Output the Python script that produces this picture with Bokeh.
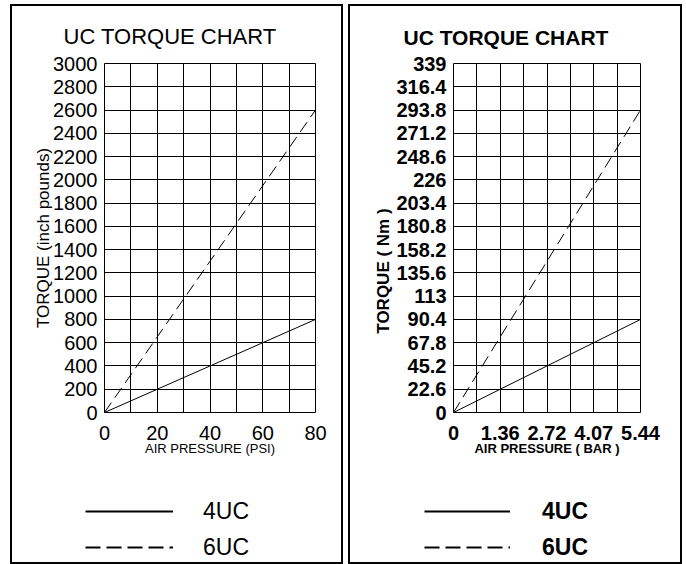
from bokeh.plotting import figure
from bokeh.models import Range1d, FixedTicker, Legend, LegendItem
from bokeh.layouts import row, column
from bokeh.embed import file_html
from bokeh.resources import INLINE

# ---------------- data ----------------
psi = [0, 80]
torque_4uc_inlb = [0, 800]
torque_6uc_inlb = [0, 2600]

bar = [0, 5.44]
torque_4uc_nm = [0, 90.4]
torque_6uc_nm = [0, 293.8]

psi_ticks = [0, 20, 40, 60, 80]
psi_grid = [0, 10, 20, 30, 40, 50, 60, 70, 80]
inlb_ticks = [0, 200, 400, 600, 800, 1000, 1200, 1400, 1600, 1800,
              2000, 2200, 2400, 2600, 2800, 3000]

bar_ticks = [0, 1.36, 2.72, 4.08, 5.44]
bar_tick_labels = ["0", "1.36", "2.72", "4.07", "5.44"]
bar_grid = [0, 0.68, 1.36, 2.04, 2.72, 3.40, 4.08, 4.76, 5.44]
nm_ticks = [0, 22.6, 45.2, 67.8, 90.4, 113, 135.6, 158.2, 180.8, 203.4,
            226, 248.6, 271.2, 293.8, 316.4, 339]
nm_tick_labels = ["0", "22.6", "45.2", "67.8", "90.4", "113", "135.6", "158.2",
                  "180.8", "203.4", "226", "248.6", "271.2", "293.8", "316.4", "339"]

series_labels = ["4UC", "6UC"]
FONT = "Liberation Sans"
DASH = "12 6"
LEG_DASH = "15 6"
MAIN_H = 466
LEG_H = 94
NAN = float("nan")


def make_panel(title, xlabel, ylabel, xs, y4, y6, xmax, ymax, xticks, xgrid,
               yticks, xlabels, ylabels, weight, width, margin, mleft, mright,
               title_offset, title_size, ylabel_standoff,
               leg_x, leg_glyph_w, leg_standoff):
    p = figure(width=width, height=MAIN_H, output_backend="svg", toolbar_location=None,
               x_range=Range1d(0, xmax), y_range=Range1d(0, ymax),
               min_border_left=mleft, min_border_right=mright,
               min_border_top=59, min_border_bottom=MAIN_H - 59 - 349,
               border_fill_color=None, background_fill_color="white",
               outline_line_color="black", outline_line_width=1,
               title=title)
    p.title.text_font = FONT
    p.title.text_font_size = title_size
    p.title.text_font_style = weight
    p.title.text_color = "black"
    p.title.align = "left"
    p.title.offset = title_offset
    p.title.standoff = 30

    p.xaxis.ticker = FixedTicker(ticks=xticks, minor_ticks=xgrid)
    p.yaxis.ticker = FixedTicker(ticks=yticks)
    if xlabels is not None:
        p.xaxis.major_label_overrides = {t: s for t, s in zip(xticks, xlabels)}
    if ylabels is not None:
        p.yaxis.major_label_overrides = {t: s for t, s in zip(yticks, ylabels)}

    for ax in (p.xaxis, p.yaxis):
        ax.axis_line_color = None
        ax.major_tick_line_color = None
        ax.minor_tick_line_color = None
        ax.major_tick_out = 0
        ax.major_tick_in = 0
        ax.major_label_text_font = FONT
        ax.major_label_text_font_size = "20px"
        ax.major_label_text_font_style = weight
        ax.major_label_text_color = "black"
        ax.axis_label_text_font = FONT
        ax.axis_label_text_font_style = weight
        ax.axis_label_text_color = "black"
        ax.major_label_standoff = 7
    p.xaxis.axis_label = xlabel
    p.xaxis.axis_label_text_font_size = "13px"
    p.xaxis.axis_label_standoff = -2
    p.xaxis.major_label_standoff = 9
    p.yaxis.axis_label = ylabel
    p.yaxis.axis_label_text_font_size = "17px"
    p.yaxis.axis_label_standoff = ylabel_standoff

    p.xgrid.grid_line_color = "black"
    p.xgrid.grid_line_width = 1
    p.xgrid.minor_grid_line_color = "black"
    p.xgrid.minor_grid_line_width = 1
    p.ygrid.grid_line_color = "black"
    p.ygrid.grid_line_width = 1

    p.line(xs, y4, line_color="black", line_width=1)
    p.line(xs, y6, line_color="black", line_width=1, line_dash=DASH)

    # legend in its own strip below the chart (same panel box)
    q = figure(width=width, height=LEG_H, output_backend="svg", toolbar_location=None,
               x_range=Range1d(0, 1), y_range=Range1d(0, 1),
               x_axis_type=None, y_axis_type=None,
               min_border_left=0, min_border_right=0, min_border_top=0,
               min_border_bottom=0, border_fill_color=None,
               background_fill_color=None, outline_line_color=None)
    try:
        q.frame_align = False
    except AttributeError:
        pass
    l4 = q.line([NAN], [NAN], line_color="black", line_width=2)
    l6 = q.line([NAN], [NAN], line_color="black", line_width=2, line_dash=LEG_DASH)
    legend = Legend(items=[LegendItem(label=series_labels[0], renderers=[l4]),
                           LegendItem(label=series_labels[1], renderers=[l6])],
                    location=(leg_x, -1), orientation="vertical",
                    glyph_width=leg_glyph_w, glyph_height=36, label_height=36,
                    label_standoff=leg_standoff, spacing=0, padding=0, margin=0,
                    border_line_color=None, background_fill_alpha=0,
                    label_text_font=FONT, label_text_font_size="23px",
                    label_text_font_style=weight, label_text_color="black")
    q.add_layout(legend)
    return column(p, q, spacing=0, margin=margin,
                  styles={"box-shadow": "inset 0 0 0 2px #000"})


c1 = make_panel("UC TORQUE CHART", "AIR PRESSURE (PSI)", "TORQUE (inch pounds)",
                psi, torque_4uc_inlb, torque_6uc_inlb, 80, 3000,
                psi_ticks, psi_grid, inlb_ticks, None, None, "normal",
                333, (4, 0, 0, 10), 94, 28, -41, "22px", -3, 75, 88, 30)
c2 = make_panel("UC TORQUE CHART", "AIR PRESSURE ( BAR )",
                "TORQUE ( Nm )" + "\u00a0" * 14,
                bar, torque_4uc_nm, torque_6uc_nm, 5.44, 339,
                bar_ticks, bar_grid, nm_ticks, bar_tick_labels, nm_tick_labels, "bold",
                334, (4, 0, 0, 0), 105, 42, -50, "21px", 0, 76, 86, 32)

layout = row(c1, c2, spacing=5)
open("out.html", "w").write(file_html(layout, INLINE))
